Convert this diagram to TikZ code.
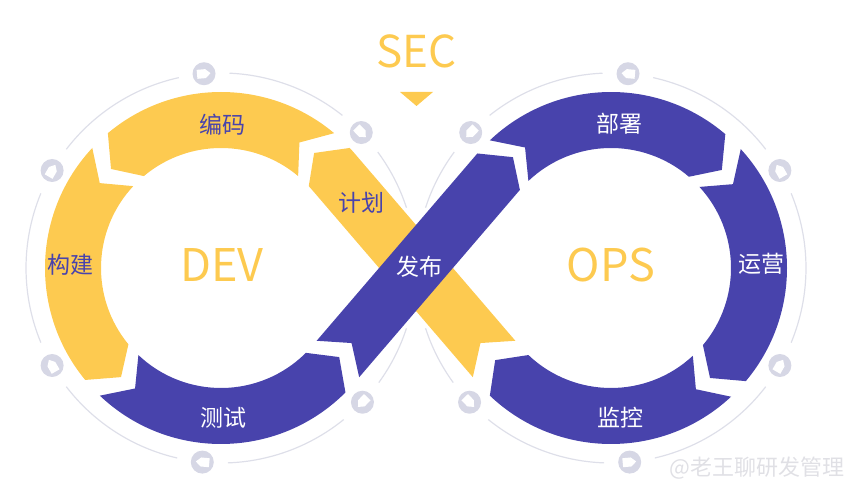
\documentclass[tikz,border=0pt]{standalone}
\usepackage{fontspec}
\setmainfont{Noto Sans CJK SC}
\usetikzlibrary{calc}
\definecolor{Sun}{RGB}{253,202,80}
\definecolor{Indigo}{RGB}{72,67,172}
\definecolor{IconGray}{RGB}{214,215,229}
\definecolor{RingGray}{RGB}{222,223,233}
\definecolor{MarkGray}{RGB}{224,224,229}

% one arrow piece of a loop: centre, tail angle, head angle, signed tip depth, colour
\newcommand{\bandarc}[5]{%
  \fill[#5, shift={(#1)}] (#2:176) arc[start angle=#2, end angle=#3, radius=176]
    -- ({#3#4}:148) -- (#3:120) arc[start angle=#3, end angle=#2, radius=120]
    -- ({#2#4}:148) -- cycle;}
% small marker on the outer ring: position, arrow direction
\newcommand{\loopicon}[2]{%
  \fill[IconGray] (#1) circle[radius=11.5];
  \fill[white, shift={(#1)}, rotate=#2] (-7,-4.5) -- (1.5,-4.5) -- (6.5,0) -- (1.5,4.5) -- (-7,4.5) -- cycle;}

\begin{document}
\begin{tikzpicture}[x=1pt,y=1pt, every node/.style={inner sep=0pt},
  lab/.style={font=\fontsize{23}{23}\selectfont},
  big/.style={font=\fontsize{45}{45}\selectfont, text=Sun}]
  \useasboundingbox (0,0) rectangle (864,500);
  \coordinate (L) at (221,232);
  \coordinate (R) at (611,232);

  % outer thin rings
  \foreach \a/\b in {18/36.5, 51.5/87.5, 102.5/142.5, 157.5/202.5, 217.5/257, 272/309, 324/342} {
    \draw[RingGray, line width=1.2pt] ($(L)+(\a:195)$) arc[start angle=\a, end angle=\b, radius=195];
    \draw[RingGray, line width=1.2pt] ($(R)+({180-\a}:195)$) arc[start angle={180-\a}, end angle={180-\b}, radius=195];
  }
  \foreach \t/\d in {44/-46, 95/5, 150/60, 210/120, 264.5/174.5, 316.5/226.5}
    \loopicon{$(L)+(\t:195)$}{\d};
  \foreach \t/\d in {136/226, 85/175, 30/120, -30/60, -84.5/5.5, 223.5/313.5}
    \loopicon{$(R)+(\t:195)$}{\d};

  % DEV loop
  \bandarc{L}{50}{130}{+8}{Sun}
  \bandarc{L}{137}{219.5}{+8}{Sun}
  \bandarc{L}{226.5}{315}{+8}{Indigo}
  % OPS loop
  \bandarc{R}{133.5}{49.5}{-8}{Indigo}
  \bandarc{R}{42.5}{-40}{-8}{Indigo}
  \bandarc{R}{313}{226.5}{-8}{Indigo}

  % crossing pieces
  \coordinate (pT) at ($(R)+(220.6:148)$);
  \fill[Sun] ($(pT)+(130.6:7)+(40.6:28)$) -- ($(L)+(40.6:176)$)
    arc[start angle=40.6, end angle=43, radius=176] -- ($(L)+(51:148)$) -- ($(L)+(43:120)$)
    arc[start angle=43, end angle=40.6, radius=120] -- ($(pT)+(130.6:7)+(220.6:28)$)
    -- ($(pT)+(130.6:28)$) -- cycle;
  \coordinate (rT) at ($(L)+(-40.6:148)$);
  \fill[Indigo] ($(rT)+(49.4:7)+(-40.6:28)$) -- ($(R)+(139.4:120)$) -- ($(R)+(131.5:148)$)
    -- ($(R)+(139.4:176)$) -- ($(rT)+(49.4:7)+(139.4:28)$) -- ($(rT)+(49.4:28)$) -- cycle;

  % SEC marker
  \node[big, font=\fontsize{44}{44}\selectfont] (sec) at (416.5,449) {SEC};
  \fill[Sun] (400,408) -- (433,408) -- (416.5,394) -- cycle;

  \node[big] (dev) at (222,235) {DEV};
  \node[big] (ops) at (611,235) {OPS};

  \node[lab, text=Indigo] (code) at (222,375) {编码};
  \node[lab, text=Indigo] (build) at (70,235) {构建};
  \node[lab, text=white] (test) at (223,82) {测试};
  \node[lab, text=Indigo] (plan) at (361,297) {计划};
  \node[lab, text=white] (release) at (419,233) {发布};
  \node[lab, text=white] (deploy) at (619,376) {部署};
  \node[lab, text=white] (operate) at (761,236) {运营};
  \node[lab, text=white] (monitor) at (620,82) {监控};

  \node[text=MarkGray, font=\fontsize{22}{22}\selectfont] (mark) at (757,32) {@老王聊研发管理};
\end{tikzpicture}
\end{document}
